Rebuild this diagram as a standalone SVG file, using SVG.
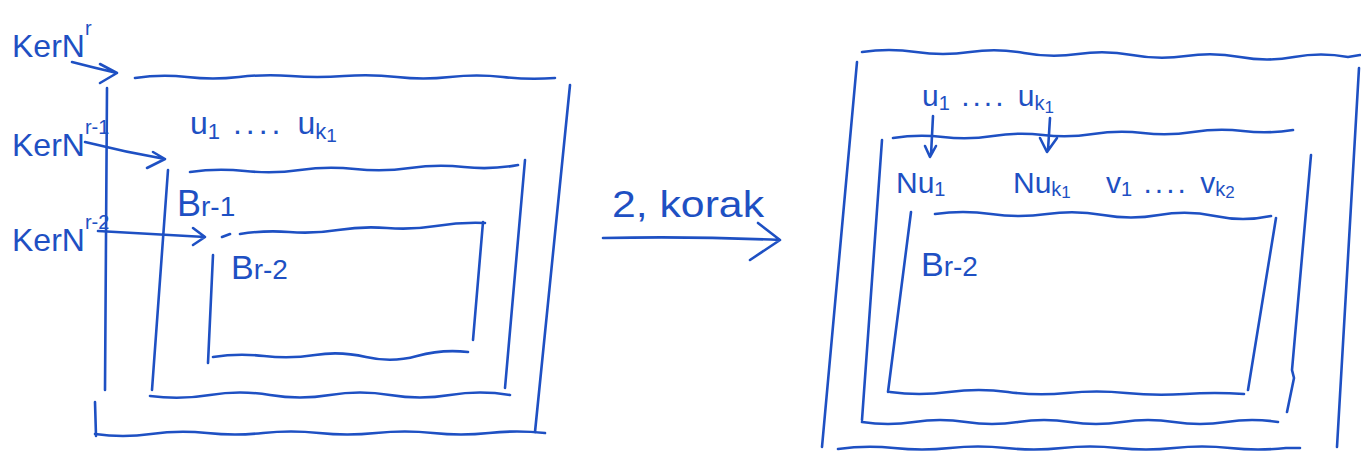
<svg xmlns="http://www.w3.org/2000/svg" width="1361" height="457" viewBox="0 0 1361 457">
<defs>
<style>
.ink{fill:none;stroke:#1e50c3;stroke-width:2.6;stroke-linecap:round;stroke-linejoin:round}
.t{fill:#1e50c3;font-family:"Liberation Sans","DejaVu Sans",sans-serif}
</style>
</defs>
<rect width="1361" height="457" fill="#ffffff"/>

<!-- LEFT SKETCH -->
<g id="left-outer">
<path class="ink" d="M135 78 q26 -4 52 -1 t52 0 t52 -1 t53 0 t53 1 t53 0 t53 0 t52 1"/>
<path class="ink" d="M107 88 L105 390 M95 402 L96 436"/>
<path class="ink" d="M95 434 q28 4 56 0 t56 -1 t56 0 t56 0 t57 0 t57 0 t56 0 t56 0"/>
<path class="ink" d="M570 85 L535 432"/>
<text class="t" x="190" y="134" font-size="32">u<tspan font-size="22" dy="5">1</tspan><tspan dy="-5" letter-spacing="4"> .... </tspan><tspan>u</tspan><tspan font-size="22" dy="5">k</tspan><tspan font-size="19" dy="3">1</tspan></text>
</g>

<g id="left-middle">
<path class="ink" d="M190 172 q27 -4 55 -1 t55 -1 t55 -1 t55 -1 t54 -1 t54 -2"/>
<path class="ink" d="M168 170 L152 390"/>
<path class="ink" d="M150 396 q30 4 60 -1 t60 0 t60 0 t60 0 t60 0 t60 0"/>
<path class="ink" d="M525 160 L505 388"/>
<text class="t" x="177" y="216" font-size="36">B<tspan font-size="28">r-1</tspan></text>
</g>

<g id="left-inner">
<path class="ink" d="M222 237 L230 234 M240 234 q25 -4 49 -2 t49 -2 t49 -2 t49 -2 t49 -3"/>
<path class="ink" d="M213 255 L208 363"/>
<path class="ink" d="M213 357 q25 -4 51 -1 t51 -1 t51 2 t51 -1 t51 -4"/>
<path class="ink" d="M483 222 L473 340"/>
<text class="t" x="231" y="279" font-size="34">B<tspan font-size="28">r-2</tspan></text>
</g>

<g id="label-kerNr">
<text class="t" x="12" y="57" font-size="32">KerN<tspan font-size="20" dy="-22">r</tspan></text>
</g>
<g id="label-kerNr1">
<text class="t" x="12" y="156" font-size="32">KerN<tspan font-size="20" dy="-22">r-1</tspan></text>
</g>
<g id="label-kerNr2">
<text class="t" x="12" y="251" font-size="32">KerN<tspan font-size="20" dy="-22">r-2</tspan></text>
</g>

<!-- MIDDLE -->
<g id="step-label">
<text class="t" x="612" y="217" font-size="36" textLength="152" lengthAdjust="spacingAndGlyphs">2, korak</text>
</g>

<!-- RIGHT SKETCH -->
<g id="right-outer">
<path class="ink" d="M862 52 q27 -4 54 0 t54 0 t54 1 t54 1 t54 1 t54 1 t54 1 t54 0 t54 0 l12 -2"/>
<path class="ink" d="M857 62 L822 447"/>
<path class="ink" d="M1359 68 L1337 447"/>
<path class="ink" d="M838 449 q28 -4 56 -1 t56 0 t56 0 t56 0 t56 0 t56 0 t56 0 t56 0 l14 0"/>
<text class="t" x="922" y="106" font-size="30">u<tspan font-size="20" dy="4">1</tspan><tspan dy="-4" letter-spacing="3"> .... </tspan><tspan>u</tspan><tspan font-size="20" dy="4">k</tspan><tspan font-size="17" dy="3">1</tspan></text>
</g>

<g id="right-middle">
<path class="ink" d="M893 138 q25 -4 50 -1 t50 -1 t50 -1 t50 -1 t50 -1 t50 -1 t50 -1 t50 -1"/>
<path class="ink" d="M882 140 L862 420"/>
<path class="ink" d="M1311 155 L1292 370 L1294 378 L1287 412"/>
<path class="ink" d="M862 422 q26 4 52 0 t52 0 t52 0 t52 0 t52 0 t52 0 t52 0 t52 0"/>
<text class="t" x="896" y="193" font-size="30">Nu<tspan font-size="20" dy="3">1</tspan></text>
<text class="t" x="1013" y="193" font-size="30">Nu<tspan font-size="20" dy="3">k</tspan><tspan font-size="17" dy="2">1</tspan></text>
<text class="t" x="1106" y="193" font-size="30">v<tspan font-size="20" dy="3">1</tspan><tspan dy="-3" letter-spacing="3"> .... </tspan><tspan>v</tspan><tspan font-size="20" dy="3">k</tspan><tspan font-size="17" dy="2">2</tspan></text>
</g>

<g id="right-inner">
<path class="ink" d="M935 214 q28 -4 56 0 t56 0 t56 1 t56 0 t56 1 t56 0"/>
<path class="ink" d="M911 212 L888 392"/>
<path class="ink" d="M1276 218 L1248 390"/>
<path class="ink" d="M890 392 q29 4 59 0 t59 0 t59 1 t59 0 t59 1 t59 0"/>
<text class="t" x="921" y="276" font-size="34">B<tspan font-size="28">r-2</tspan></text>
</g>

<g id="connectors">
<path class="ink" d="M72 62 Q95 68 117 73 M100 64 L117 73 L100 83"/>
<path class="ink" d="M85 142 Q125 152 165 159 M153 152 L165 159 L147 168"/>
<path class="ink" d="M98 231 Q150 234 205 237 M193 228 L205 237 L193 245"/>
<path class="ink" d="M603 238 Q690 236 780 240 M758 223 L780 240 L750 260"/>
<path class="ink" d="M933 116 L931 155 M925 146 L930 157 L936 146"/>
<path class="ink" d="M1050 118 L1048 150 M1040 138 L1047 152 L1057 138"/>
</g>
</svg>
